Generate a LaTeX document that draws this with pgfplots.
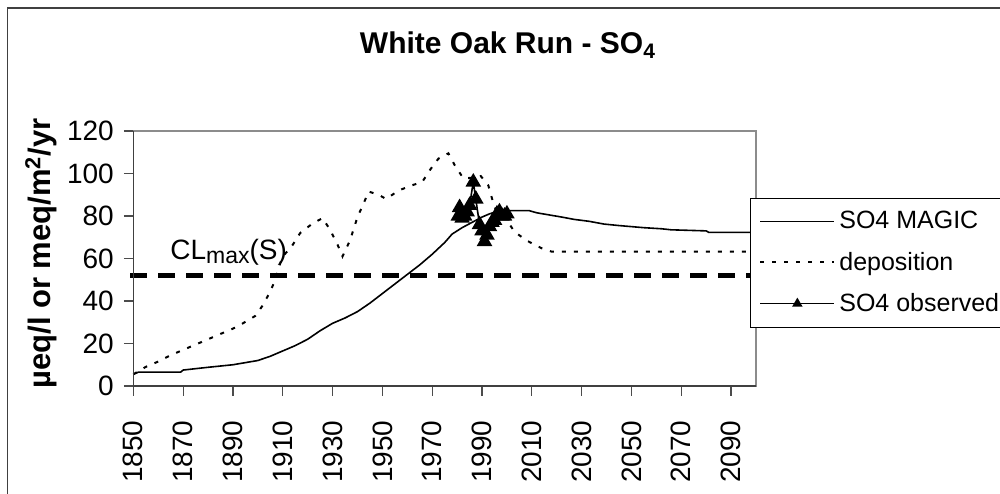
\documentclass[border=0pt]{standalone}
\usepackage{fontspec}
\setmainfont{Liberation Sans}
\usepackage{pgfplots}
\pgfplotsset{compat=1.18}
\begin{document}
\begin{tikzpicture}[x=1pt,y=1pt]
\begin{scope}
\clip (0,0) rectangle (500,246.5);
\draw[line width=0.75pt, black!75] (3.65,-5) -- (3.65,242.5) -- (505,242.5);
\begin{axis}[
  at={(66.65pt,53.5pt)}, anchor=south west,
  scale only axis, width=311.35pt, height=127.5pt,
  xmin=1850, xmax=2100, ymin=0, ymax=120,
  clip=false,
  xtick={1850,1870,...,2090}, ytick={0,20,...,120},
  tick pos=left, tick align=outside, major tick length=4.75pt,
  tick style={black!70, line width=0.6pt},
  axis line style={draw=black!45, line width=0.6pt},
  /pgf/number format/assume math mode=true,
  /pgf/number format/1000 sep={},
  ticklabel style={font=\fontsize{14}{16}\selectfont},
  xticklabel style={rotate=90, anchor=east},
  xticklabel shift=9pt, yticklabel shift=1.5pt,
  ylabel={µeq/l or meq/m\textsuperscript{2}/yr},
  ylabel style={at={(axis description cs:-0.148,0.52)}, anchor=center, font=\bfseries\fontsize{15.5}{18}\selectfont},
  title={White Oak Run - SO\textsubscript{4}},
  title style={at={(axis description cs:0.6017,1.256)}, anchor=base, font=\bfseries\fontsize{15}{18}\selectfont},
  legend style={at={(axis description cs:0.9903,0.737)}, anchor=north west, draw=black, fill=white,
    font=\fontsize{12.5}{15}\selectfont, row sep=6pt, inner xsep=4.5pt, inner ysep=4.5pt,
    cells={anchor=west}},
  legend cell align=left,
  legend image code/.code={\draw[mark repeat=2,mark phase=2,#1] plot coordinates {(0pt,0pt) (18.5pt,0pt) (37pt,0pt)};},
  legend image post style={mark size=2.2pt},
  extra description/.code={\draw[black!75, line width=0.6pt] (rel axis cs:0,1) -- (rel axis cs:0,0) -- (rel axis cs:1,0);},
]
\addplot[black, line width=0.8pt] coordinates {
(1850,5.5) (1852,6.5) (1869,6.5) (1870,7.5) (1880,8.8) (1890,10) (1895,11) (1900,12) (1905,14) (1910,16.5) (1915,19) (1920,22) (1925,26) (1930,29.5) (1935,32) (1940,35) (1945,39) (1950,43.5) (1955,48) (1960,52.5) (1965,57) (1970,62) (1975,67.5) (1978,71.5) (1982,74.5) (1986,77) (1990,79.5) (1993,81) (1997,82.5) (2009,82.5) (2012,81.5) (2017,80.5) (2022,79.5) (2027,78.4) (2033,77.5) (2039,76.2) (2045,75.5) (2050,75) (2055,74.5) (2062,74) (2066,73.5) (2080,73) (2081,72.3) (2100,72.3)
};
\addlegendentry{SO4 MAGIC}
\addplot[black, line width=1pt, dash pattern=on 2pt off 4pt] coordinates {
(1850,5.5) (1855,9) (1860,11.5) (1865,14.5) (1870,17) (1875,19.5) (1880,22) (1885,24.5) (1890,27) (1894,29.5) (1899,33) (1902,38) (1905,44.5) (1907,50) (1908,54.5) (1910,61) (1913.5,65.5) (1917,72) (1922,76.5) (1926,79) (1929,73.5) (1932,66.5) (1934,61) (1937,68.5) (1940,79.5) (1942.5,86) (1944.5,91.5) (1948.5,90) (1951.5,88) (1956.5,92) (1962,94.5) (1966,96) (1969,101.5) (1972.5,107) (1976.5,109.5) (1979,104) (1982.5,97.7) (1986,98) (1989.5,98.8) (1992.5,94.5) (1994,88.3) (1995.5,83) (2000.4,77.3) (2003,72.6) (2008,68.4) (2014,64.8) (2018,63.2) (2100,63.2)
};
\addlegendentry{deposition}
\addplot[black, line width=0.8pt, mark=triangle*, mark size=3.7pt] coordinates {
(1980.5,80) (1981,84) (1982,79) (1983,80) (1984,82) (1985,85) (1986.5,96) (1987.5,88) (1989,76) (1990,73) (1991,68) (1992,71) (1993,75) (1994,77) (1995,78) (1996,81) (1997,82) (1998,80) (1999,80) (2000,81)
};
\addlegendentry{SO4 observed}
\addplot[black, line width=2.2pt, dash pattern=on 8.3pt off 5.7pt, forget plot] coordinates {(1848.8,52) (2100.4,52)};
\node[anchor=base west, inner sep=0, font=\fontsize{14}{16}\selectfont] at (axis cs:1864.7,59.3) {CL\raisebox{-1.7pt}{\fontsize{11.5}{13}\selectfont max}(S)};
\end{axis}
\end{scope}
\pgfresetboundingbox
\useasboundingbox (0,0) rectangle (500,246.5);
\end{tikzpicture}
\end{document}
